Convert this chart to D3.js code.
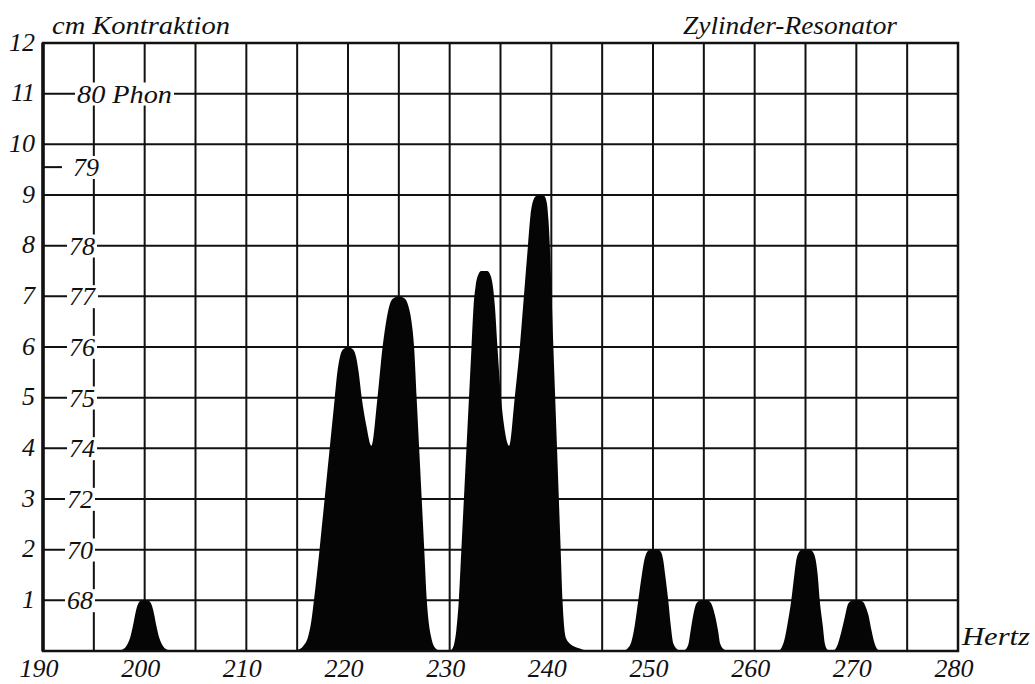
<!DOCTYPE html>
<html>
<head>
<meta charset="utf-8">
<script src="https://cdn.jsdelivr.net/npm/d3@7"></script>
<style>
body { margin:0; background:#fff; }
svg text { font-family:"Liberation Serif", serif; font-style:italic; fill:#111; }
</style>
</head>
<body>
<svg id="chart" width="1035" height="684"></svg>
<script>
// frequency grid (Hertz) and contraction grid (cm)
var xTicks = [190,195,200,205,210,215,220,225,230,235,240,245,250,255,260,265,270,275,280];
var xLabels = [190,200,210,220,230,240,250,260,270,280];
var yTicks = [0,1,2,3,4,5,6,7,8,9,10,11,12];
var yLabels = [1,2,3,4,5,6,7,8,9,10,11,12];

// loudness scale written beside the cm axis
var phonAt = [11, 9.55, 8, 7, 6, 5, 4, 3, 2, 1];
var phonText = ["80 Phon", "79", "78", "77", "76", "75", "74", "72", "70", "68"];

// resonance profile, [Hertz, cm]
var peak200 = [[197.2,0],[197.7,0.02],[198.2,0.1],[198.55,0.25],[198.85,0.5],[199.15,0.8],[199.35,0.93],[199.65,0.99],
  [200,1],[200.35,0.99],[200.65,0.93],[200.85,0.8],[201.15,0.5],[201.45,0.25],[201.8,0.1],[202.3,0.02],[202.8,0]];
var peaks220 = [[214.5,0],[215,0.02],[215.6,0.1],[216.1,0.3],[216.4,0.6],[216.65,1],[217.2,2],[217.7,3],[218.2,4],[218.7,5],
  [218.95,5.5],[219.2,5.8],[219.5,5.95],[220,6],[220.5,5.95],[220.8,5.8],[221.05,5.5],[221.35,5],[221.8,4.45],[222.3,4.05],
  [222.9,5],[223.4,6],[223.75,6.5],[224.05,6.8],[224.4,6.95],[225,7],[225.6,6.95],[225.95,6.8],[226.25,6.5],[226.5,6],
  [226.75,5],[227,4],[227.25,3],[227.5,2],[227.75,1],[227.95,0.55],[228.15,0.3],[228.5,0.08],[229,0.01],[229.5,0]];
var peaks233 = [[230,0],[230.2,0.03],[230.45,0.15],[230.65,0.4],[230.9,1],[231.15,2],[231.4,3],[231.65,4],[231.9,5],[232.15,6],
  [232.35,6.8],[232.55,7.2],[232.8,7.42],[233.1,7.5],[233.7,7.5],[234,7.42],[234.25,7.2],[234.45,6.8],[234.7,6],[235.05,5],
  [235.35,4.45],[235.85,4.05],[236.4,5],[236.9,6],[237.3,7],[237.7,8],[237.95,8.6],[238.2,8.88],[238.5,8.98],[238.9,9],
  [239.3,8.98],[239.55,8.85],[239.72,8.5],[239.85,8],[240.03,7],[240.2,6],[240.38,5],[240.56,4],[240.74,3],[240.92,2],
  [241.1,1],[241.25,0.5],[241.45,0.25],[241.8,0.15],[242.8,0.05],[243.8,0]];
var peak250 = [[247,0],[247.5,0.05],[247.9,0.2],[248.2,0.5],[248.55,1],[248.9,1.5],[249.15,1.8],[249.4,1.95],[249.7,2],
  [250.5,2],[250.8,1.95],[251,1.8],[251.2,1.5],[251.5,1],[251.75,0.5],[252,0.15],[252.5,0.02],[252.9,0]];
var peak255 = [[253,0],[253.2,0.03],[253.5,0.15],[253.7,0.4],[253.95,0.7],[254.15,0.88],[254.4,0.97],[254.7,1],
  [255.3,1],[255.6,0.97],[255.85,0.88],[256.1,0.7],[256.4,0.4],[256.6,0.15],[257,0.03],[257.4,0]];
var peak265 = [[262.3,0],[262.6,0.05],[262.9,0.2],[263.2,0.5],[263.6,1],[263.9,1.5],[264.1,1.8],[264.35,1.95],[264.65,2],
  [265.45,2],[265.75,1.95],[266,1.8],[266.2,1.5],[266.4,1],[266.7,0.5],[266.9,0.15],[267.15,0.03],[267.4,0]];
var peak270 = [[267.6,0],[267.9,0.03],[268.2,0.15],[268.55,0.4],[268.9,0.7],[269.1,0.88],[269.35,0.97],[269.7,1],
  [270.3,1],[270.65,0.97],[270.9,0.88],[271.2,0.7],[271.5,0.4],[271.8,0.15],[272.1,0.03],[272.4,0]];

var svg = d3.select("#chart");
var x = d3.scaleLinear().domain([190, 280]).range([43, 958]);
var y = d3.scaleLinear().domain([0, 12]).range([651, 43]);

// grid
var grid = svg.append("g").attr("stroke", "#111").attr("stroke-width", 2);
grid.selectAll(".v").data(xTicks).enter().append("line")
  .attr("x1", function(d){ return x(d); }).attr("x2", function(d){ return x(d); })
  .attr("y1", y(0)).attr("y2", y(12));
grid.selectAll(".h").data(yTicks).enter().append("line")
  .attr("x1", x(190)).attr("x2", x(280))
  .attr("y1", function(d){ return y(d); }).attr("y2", function(d){ return y(d); });

// profile
var pts = [[190,0]].concat(peak200, peaks220, peaks233, peak250, peak255, peak265, peak270, [[280,0]]);
var area = d3.area()
  .x(function(d){ return x(d[0]); })
  .y0(y(0))
  .y1(function(d){ return y(d[1]); })
  .curve(d3.curveMonotoneX);
svg.append("path").datum(pts).attr("d", area).attr("fill", "#050505");

// frame
svg.append("rect").attr("x", x(190)).attr("y", y(12))
  .attr("width", x(280) - x(190)).attr("height", y(0) - y(12))
  .attr("fill", "none").attr("stroke", "#111").attr("stroke-width", 2.5);
svg.append("line").attr("x1", x(190)).attr("x2", x(190)).attr("y1", y(12)).attr("y2", y(0))
  .attr("stroke", "#111").attr("stroke-width", 3.5);

// phon labels, cut into the grid
var phon = svg.append("g");
phonText.forEach(function(t, i){
  var xs = i == 0 ? 77 : (i == 1 ? 73 : (i >= 7 ? 67 : 69));
  var g = phon.append("g");
  var bg = g.append("rect").attr("fill", "#fff");
  var tx = g.append("text").attr("x", xs).attr("y", y(phonAt[i])).attr("dy", "0.34em")
    .attr("font-size", 26).text(t);
  if (i == 0) tx.attr("textLength", 95).attr("lengthAdjust", "spacingAndGlyphs");
  var b = tx.node().getBBox();
  bg.attr("x", b.x - 2).attr("y", b.y + 3).attr("width", b.width + 4).attr("height", b.height - 6);
});
svg.append("line").attr("x1", x(190)).attr("x2", 62).attr("y1", y(9.55)).attr("y2", y(9.55))
  .attr("stroke", "#111").attr("stroke-width", 2);

// tick labels
svg.append("g").selectAll("text").data(yLabels).enter().append("text")
  .attr("x", 35).attr("y", function(d){ return y(d); }).attr("dy", "0.3em")
  .attr("text-anchor", "end").attr("font-size", 26)
  .text(function(d){ return d; });
svg.append("g").selectAll("text").data(xLabels).enter().append("text")
  .attr("x", function(d){ return x(d) - 4; }).attr("y", 677)
  .attr("text-anchor", "middle").attr("font-size", 26)
  .text(function(d){ return d; });

// titles
svg.append("text").attr("x", 52).attr("y", 34).attr("font-size", 25)
  .attr("textLength", 178).attr("lengthAdjust", "spacingAndGlyphs").text("cm Kontraktion");
svg.append("text").attr("x", 683).attr("y", 34).attr("font-size", 25)
  .attr("textLength", 214).attr("lengthAdjust", "spacingAndGlyphs").text("Zylinder-Resonator");
svg.append("text").attr("x", 962).attr("y", 645).attr("font-size", 26)
  .attr("textLength", 68).attr("lengthAdjust", "spacingAndGlyphs").text("Hertz");
</script>
</body>
</html>
